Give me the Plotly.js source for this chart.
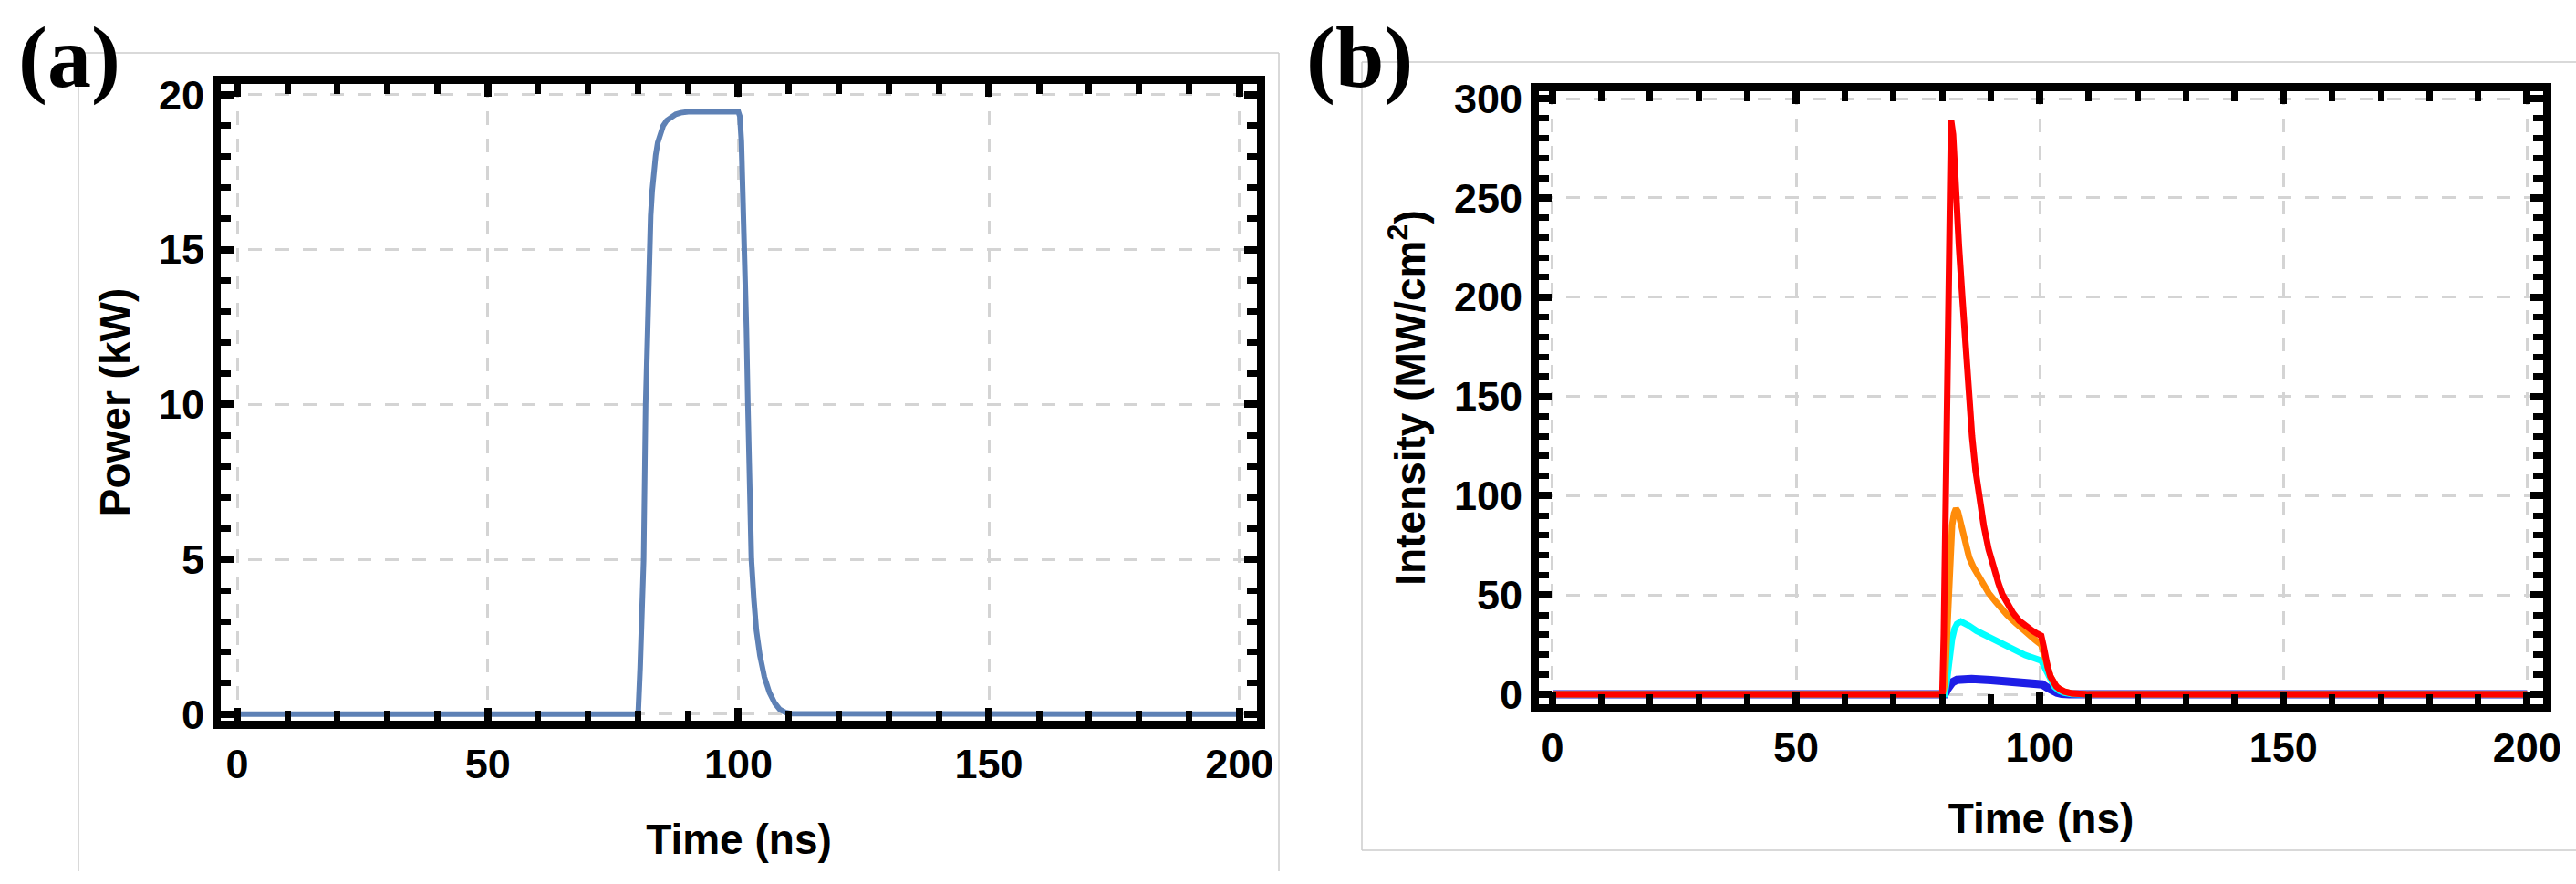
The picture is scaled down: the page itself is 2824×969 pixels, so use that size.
<!DOCTYPE html>
<html>
<head>
<meta charset="utf-8">
<script src="https://cdn.plot.ly/plotly-3.0.1.min.js"></script>
<style>html,body{margin:0;padding:0;background:#fff;}#plot{width:2824px;height:969px;}</style>
</head>
<body>
<div id="plot"></div>
<script>
// ---- Panel (a): pump power vs time ----
const timeA = [0, 80, 80.4, 80.8, 81.1, 81.5, 81.9, 82.2, 82.5, 82.8, 83.1, 83.5, 83.9, 84.4, 85, 85.7, 86.5, 87.5, 88.5, 90, 100, 100.3, 100.6, 100.9, 101.3, 101.6, 101.9, 102.3, 102.6, 103.1, 103.6, 104.3, 105.2, 106.2, 107.3, 108.3, 109.4, 110.5, 200];
const powerA = [0, 0, 1.5, 3.3, 5, 10, 13, 15, 16.1, 16.9, 17.5, 18.05, 18.45, 18.75, 19.0, 19.17, 19.28, 19.37, 19.42, 19.45, 19.45, 19.3, 18.5, 17.0, 15, 12.5, 10, 7.2, 5, 3.7, 2.7, 1.9, 1.2, 0.7, 0.35, 0.15, 0.06, 0.02, 0];

// ---- Panel (b): intensity vs time, four curves ----
const timeBlue = [0, 80.5, 81, 81.5, 82, 83, 84.4, 86, 90, 95, 99.6, 100.5, 101.5, 102.5, 103.5, 104.5, 106, 200];
const intBlue  = [0, 0, 2.5, 4.8, 6, 7.3, 7.9, 7.7, 7.2, 6.5, 5.6, 5, 3.5, 2, 0.9, 0.3, 0, 0];

const timeCyan = [0, 80.5, 81, 81.5, 82, 82.5, 83, 83.8, 84.5, 85.5, 87, 89.5, 92, 94.6, 97, 100.3, 100.8, 101.5, 102.2, 103, 104, 105, 106.5, 108, 200];
const intCyan  = [0, 0, 8, 20, 28, 33, 35.5, 36.7, 36, 34.5, 32, 29, 25.5, 22.3, 19.8, 17, 14.5, 10, 6.5, 3.8, 1.8, 0.8, 0.2, 0, 0];

const timeOrange = [0, 80, 80.5, 81, 81.5, 82, 82.4, 82.8, 83.2, 83.8, 84.7, 85.5, 86.4, 87.3, 88.3, 89.5, 91, 92, 93.3, 95, 96.5, 97.7, 99, 100.3, 100.8, 101.5, 102.2, 103, 103.4, 104.2, 105, 106.6, 108, 110, 200];
const intOrange  = [0, 0, 5, 30, 65, 85, 91, 93.5, 92, 85, 75, 69, 64, 60, 55.5, 51, 46.5, 43.5, 40, 36, 32.5, 30, 27.5, 25, 21, 14.5, 9, 5.5, 4, 2.5, 1.4, 0.5, 0.15, 0, 0];

const timeRed = [0, 80, 80.3, 80.6, 81, 81.4, 81.8, 82.2, 82.8, 83.4, 84.1, 84.7, 85.4, 86.1, 86.8, 87.5, 88.5, 89.5, 90.5, 91.5, 92.3, 93.5, 94.5, 95.8, 97, 98.5, 99.5, 100.3, 100.8, 101.2, 101.6, 102.2, 102.8, 103.4, 104.2, 105, 106.6, 108, 110, 200];
const intRed  = [0, 0, 30, 90, 170, 240, 289, 282, 250, 226, 200, 176, 152, 130, 113, 99, 85, 73, 63, 56, 50.5, 45, 41, 37, 34.5, 32, 30.5, 29.5, 24, 18, 14, 9, 6, 4, 2.5, 1.5, 0.5, 0.15, 0, 0];

const xTicksVals = [0, 50, 100, 150, 200];
const yTicksA = [0, 5, 10, 15, 20];
const yTicksB = [0, 50, 100, 150, 200, 250, 300];

const tickFont = {family: 'Liberation Sans, Arial, sans-serif', size: 45, color: '#000', weight: 'bold'};
const titleFont = {family: 'Liberation Sans, Arial, sans-serif', size: 46, color: '#000', weight: 'bold'};
const gridStyle = {showgrid: true, gridcolor: '#d4d4d4', gridwidth: 3, griddash: '15px,15px'};
const minorStyle = {ticks: 'inside', ticklen: 11, tickwidth: 7, tickcolor: '#000', showgrid: false, tick0: 0};

function axisBase(extra) {
  return Object.assign({
    showline: true, linecolor: '#000', linewidth: 9, mirror: 'ticks',
    ticks: 'inside', ticklen: 14, tickwidth: 8, tickcolor: '#000',
    zeroline: false, tickfont: tickFont, tickmode: 'array',
    layer: 'above traces'
  }, gridStyle, extra);
}

const traces = [
  {x: timeA, y: powerA, type: 'scatter', mode: 'lines', xaxis: 'x', yaxis: 'y',
   line: {color: '#5E81B5', width: 6}, name: 'Power'},
  {x: timeBlue, y: intBlue, type: 'scatter', mode: 'lines', xaxis: 'x2', yaxis: 'y2',
   line: {color: '#1e1ee6', width: 9}, name: 'blue'},
  {x: timeCyan, y: intCyan, type: 'scatter', mode: 'lines', xaxis: 'x2', yaxis: 'y2',
   line: {color: '#00ffff', width: 7}, name: 'cyan'},
  {x: timeOrange, y: intOrange, type: 'scatter', mode: 'lines', xaxis: 'x2', yaxis: 'y2',
   line: {color: '#ff8c0a', width: 7}, name: 'orange'},
  {x: timeRed, y: intRed, type: 'scatter', mode: 'lines', xaxis: 'x2', yaxis: 'y2',
   line: {color: '#ff0000', width: 7}, name: 'red'}
];

const greyLine = {color: '#cccccc', width: 1.5};
const W = 2824, H = 969;
function px(x) { return x / W; }
function py(y) { return 1 - y / H; }

const layout = {
  width: W, height: H,
  margin: {l: 0, r: 0, t: 0, b: 0, pad: 0},
  paper_bgcolor: '#fff', plot_bgcolor: '#fff',
  showlegend: false,
  xaxis: axisBase({domain: [px(242), px(1378)], range: [-3.3, 203.5], anchor: 'y',
    tickvals: xTicksVals, ticktext: xTicksVals.map(String),
    minor: Object.assign({dtick: 10}, minorStyle),
    title: {text: 'Time (ns)', font: titleFont, standoff: 45}}),
  yaxis: axisBase({domain: [py(790), py(92)], range: [-0.21, 20.35], anchor: 'x',
    tickvals: yTicksA, ticktext: yTicksA.map(String),
    minor: Object.assign({dtick: 1}, minorStyle),
    title: {text: 'Power (kW)', font: titleFont, standoff: 20}}),
  xaxis2: axisBase({domain: [px(1687), px(2788)], range: [-2.8, 203.3], anchor: 'y2',
    tickvals: xTicksVals, ticktext: xTicksVals.map(String),
    minor: Object.assign({dtick: 10}, minorStyle),
    title: {text: 'Time (ns)', font: titleFont, standoff: 40}}),
  yaxis2: axisBase({domain: [py(772), py(100)], range: [-5, 303.7], anchor: 'x2',
    tickvals: yTicksB, ticktext: yTicksB.map(String),
    minor: Object.assign({dtick: 10}, minorStyle),
    title: {text: 'Intensity (MW/cm<sup>2</sup>)', font: titleFont, standoff: 20}}),
  annotations: [
    {text: '(a)', xref: 'paper', yref: 'paper', x: px(76), y: py(62), xanchor: 'center', yanchor: 'middle', showarrow: false,
     font: {family: 'Liberation Serif, Times New Roman, serif', size: 96, color: '#000', weight: 'bold'}},
    {text: '(b)', xref: 'paper', yref: 'paper', x: px(1490), y: py(62), xanchor: 'center', yanchor: 'middle', showarrow: false,
     font: {family: 'Liberation Serif, Times New Roman, serif', size: 96, color: '#000', weight: 'bold'}}
  ],
  shapes: [
    {type: 'line', xref: 'paper', yref: 'paper', x0: px(86), x1: px(86), y0: py(58), y1: py(955), line: greyLine, layer: 'below'},
    {type: 'line', xref: 'paper', yref: 'paper', x0: px(86), x1: px(1402), y0: py(58), y1: py(58), line: greyLine, layer: 'below'},
    {type: 'line', xref: 'paper', yref: 'paper', x0: px(1402), x1: px(1402), y0: py(58), y1: py(955), line: greyLine, layer: 'below'},
    {type: 'line', xref: 'paper', yref: 'paper', x0: px(1493), x1: px(1493), y0: py(68), y1: py(932), line: greyLine, layer: 'below'},
    {type: 'line', xref: 'paper', yref: 'paper', x0: px(1493), x1: px(2824), y0: py(68), y1: py(68), line: greyLine, layer: 'below'},
    {type: 'line', xref: 'paper', yref: 'paper', x0: px(1493), x1: px(2824), y0: py(932), y1: py(932), line: greyLine, layer: 'below'}
  ]
};

Plotly.newPlot('plot', traces, layout, {staticPlot: true, displayModeBar: false});
</script>
</body>
</html>
